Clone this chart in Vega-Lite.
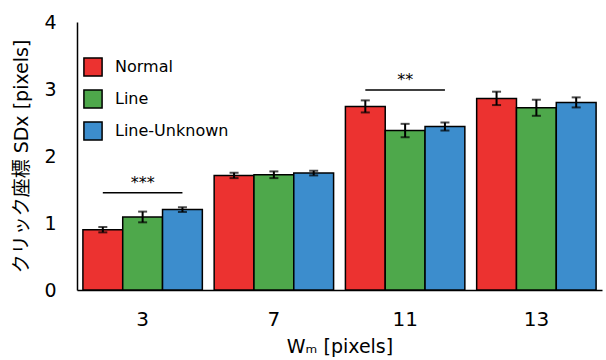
{
  "$schema": "https://vega.github.io/schema/vega-lite/v6.json",
  "autosize": {"type": "none"},
  "padding": {"left": 77, "top": 22, "right": 4, "bottom": 70},
  "width": 525,
  "height": 268,
  "config": {
    "font": "DejaVu Sans, Noto Sans CJK JP",
    "view": {"stroke": null},
    "axis": {"grid": false, "ticks": false, "domainColor": "black", "domainWidth": 1.5, "labelColor": "black", "titleColor": "black", "titleFontWeight": "normal"}
  },
  "datasets": {
    "bars": [
      {"group": "3", "series": "Normal", "value": 0.90, "lo": 0.86, "hi": 0.94},
      {"group": "3", "series": "Line", "value": 1.09, "lo": 1.01, "hi": 1.17},
      {"group": "3", "series": "Line-Unknown", "value": 1.20, "lo": 1.165, "hi": 1.235},
      {"group": "7", "series": "Normal", "value": 1.71, "lo": 1.67, "hi": 1.75},
      {"group": "7", "series": "Line", "value": 1.72, "lo": 1.67, "hi": 1.77},
      {"group": "7", "series": "Line-Unknown", "value": 1.745, "lo": 1.71, "hi": 1.78},
      {"group": "11", "series": "Normal", "value": 2.74, "lo": 2.65, "hi": 2.83},
      {"group": "11", "series": "Line", "value": 2.38, "lo": 2.28, "hi": 2.48},
      {"group": "11", "series": "Line-Unknown", "value": 2.44, "lo": 2.38, "hi": 2.50},
      {"group": "13", "series": "Normal", "value": 2.86, "lo": 2.76, "hi": 2.96},
      {"group": "13", "series": "Line", "value": 2.72, "lo": 2.60, "hi": 2.84},
      {"group": "13", "series": "Line-Unknown", "value": 2.80, "lo": 2.725, "hi": 2.875}
    ],
    "sigline": [
      {"group": "3", "series": "Normal", "y": 1.45, "id": "a"},
      {"group": "3", "series": "Line-Unknown", "y": 1.45, "id": "a"},
      {"group": "11", "series": "Normal", "y": 2.985, "id": "b"},
      {"group": "11", "series": "Line-Unknown", "y": 2.985, "id": "b"}
    ],
    "sigtext": [
      {"group": "3", "series": "Line", "y": 1.6, "label": "***"},
      {"group": "11", "series": "Line", "y": 3.14, "label": "**"}
    ]
  },
  "encoding": {
    "x": {
      "field": "group", "type": "nominal", "sort": ["3", "7", "11", "13"],
      "scale": {"paddingInner": 0.09, "paddingOuter": 0.045},
      "axis": {"labelAngle": 0, "labelFontSize": 20, "labelPadding": 19, "title": "Wₘ [pixels]", "titleFontSize": 19, "titlePadding": 8}
    },
    "xOffset": {"field": "series", "type": "nominal", "scale": {"domain": ["Normal", "Line", "Line-Unknown"], "paddingInner": 0, "paddingOuter": 0}}
  },
  "layer": [
    {
      "data": {"name": "bars"},
      "mark": {"type": "bar", "stroke": "black", "strokeWidth": 1.5, "width": {"band": 1}},
      "encoding": {
        "y": {
          "field": "value", "type": "quantitative",
          "scale": {"domain": [0, 4], "nice": false},
          "axis": {"values": [0, 1, 2, 3, 4], "format": "d", "labelFontSize": 19, "labelPadding": 21, "title": "クリック座標 SDx [pixels]", "titleFontSize": 19, "titlePadding": 12}
        },
        "fill": {
          "field": "series", "type": "nominal",
          "scale": {"domain": ["Normal", "Line", "Line-Unknown"], "range": ["#ec3230", "#4ea84b", "#3c8dcd"]},
          "legend": {
            "title": null, "orient": "none", "legendX": 6, "legendY": 35,
            "symbolType": "square", "symbolSize": 330, "symbolStrokeColor": "black", "symbolStrokeWidth": 1.5, "symbolOpacity": 1,
            "labelFontSize": 16, "labelOffset": 12, "rowPadding": 6, "labelColor": "black"
          }
        }
      }
    },
    {
      "data": {"name": "bars"},
      "mark": {"type": "rule", "color": "black", "strokeWidth": 2},
      "encoding": {
        "y": {"field": "lo", "type": "quantitative"},
        "y2": {"field": "hi"}
      }
    },
    {
      "data": {"name": "bars"},
      "mark": {"type": "tick", "orient": "horizontal", "color": "black", "size": 9, "thickness": 2},
      "encoding": {"y": {"field": "lo", "type": "quantitative"}}
    },
    {
      "data": {"name": "bars"},
      "mark": {"type": "tick", "orient": "horizontal", "color": "black", "size": 9, "thickness": 2},
      "encoding": {"y": {"field": "hi", "type": "quantitative"}}
    },
    {
      "data": {"name": "sigline"},
      "mark": {"type": "line", "color": "black", "strokeWidth": 1.5},
      "encoding": {
        "y": {"field": "y", "type": "quantitative"},
        "detail": {"field": "id"}
      }
    },
    {
      "data": {"name": "sigtext"},
      "mark": {"type": "text", "fontSize": 16, "color": "black", "baseline": "middle"},
      "encoding": {
        "y": {"field": "y", "type": "quantitative"},
        "text": {"field": "label"}
      }
    }
  ]
}
